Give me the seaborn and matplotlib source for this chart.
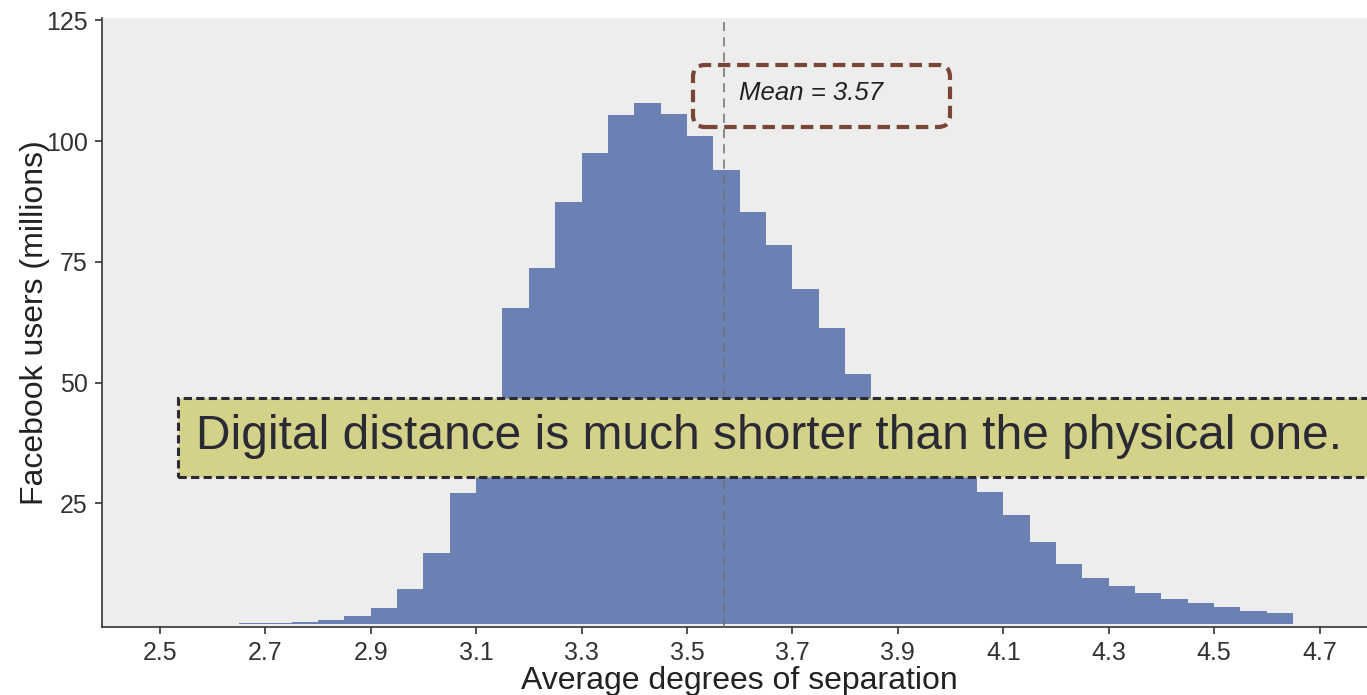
import numpy as np
import pandas as pd
import matplotlib.pyplot as plt
import seaborn as sns
from matplotlib.patches import FancyBboxPatch, Rectangle

# data: histogram of average degrees of separation
bin_edges = np.round(np.arange(2.65, 4.651, 0.05), 2)
users_millions = [0.2, 0.2, 0.35, 0.8, 1.7, 3.4, 7.2, 14.7, 27.2, 46.0,
                  65.4, 73.7, 87.3, 97.5, 105.5, 108.0, 105.7, 101.1, 94.0, 85.4,
                  78.4, 69.3, 61.3, 51.7, 44.0, 38.5, 34.0, 31.0, 27.4, 22.5,
                  17.1, 12.5, 9.5, 7.8, 6.4, 5.1, 4.3, 3.5, 2.8, 2.4]
mean_sep = 3.57
x_ticks = [2.5, 2.7, 2.9, 3.1, 3.3, 3.5, 3.7, 3.9, 4.1, 4.3, 4.5, 4.7]
y_ticks = [25, 50, 75, 100, 125]
note = "Digital distance is much shorter than the physical one."

df = pd.DataFrame({"sep": (bin_edges[:-1] + bin_edges[1:]) / 2,
                   "users": users_millions})

sns.set_theme(style="ticks")
plt.rcParams['font.family'] = ['Liberation Sans', 'DejaVu Sans']

fig = plt.figure(figsize=(13.67, 6.95), dpi=100)
ax = fig.add_axes([101.5 / 1367, 68 / 695, 1275 / 1367, 609 / 695])
ax.set_facecolor('#ededed')

sns.histplot(data=df, x="sep", weights="users", binwidth=0.05,
             binrange=(bin_edges[0], bin_edges[-1]), ax=ax,
             color='#6b81b4', alpha=1, edgecolor='none', linewidth=0, zorder=2)

# mean line
ax.axvline(mean_sep, color='#707070', lw=1.1, dashes=(6, 4), zorder=3)

ax.set_xlim(2.3894, 4.808)
ax.set_ylim(-0.6, 125.5)
ax.set_xticks(x_ticks)
ax.set_xticklabels([f"{t:.1f}" for t in x_ticks])
ax.set_yticks(y_ticks)

for s in ['top', 'right']:
    ax.spines[s].set_visible(False)
for s in ['left', 'bottom']:
    ax.spines[s].set_color('#333333')
    ax.spines[s].set_linewidth(1.2)
ax.tick_params(axis='both', length=5, width=1.2, color='#333333',
               labelsize=18, labelcolor='#333333', pad=5)

ax.set_xlabel("Average degrees of separation", fontsize=23, color='#222222', labelpad=1)
ax.set_ylabel("Facebook users (millions)", fontsize=23, color='#222222')
ax.yaxis.set_label_coords(-0.040, 0.5)

# mean label box
ax.add_patch(FancyBboxPatch((6.93, 5.68), 2.57, 0.62,
                            boxstyle='round,pad=0,rounding_size=0.12',
                            transform=fig.dpi_scale_trans, clip_on=False,
                            facecolor='none', edgecolor='#7a4535', lw=3,
                            linestyle=(0, (3, 1.6)), zorder=4))
ax.text(7.39, 5.95, f"Mean = {mean_sep}", transform=fig.dpi_scale_trans,
        fontsize=18.5, style='italic', color='#222222', va='baseline', zorder=5)

# annotation banner
ax.add_patch(Rectangle((1.78, 2.18), 12.2, 0.79, transform=fig.dpi_scale_trans,
                       clip_on=False, facecolor='#d4d188', edgecolor='#2a2a35',
                       lw=2.2, linestyle=(0, (2.7, 1.4)), zorder=6))
ax.text(1.96, 2.46, note, transform=fig.dpi_scale_trans, fontsize=34.5,
        color='#2a2a35', va='baseline', zorder=7)

plt.savefig('out.png', dpi=100)
